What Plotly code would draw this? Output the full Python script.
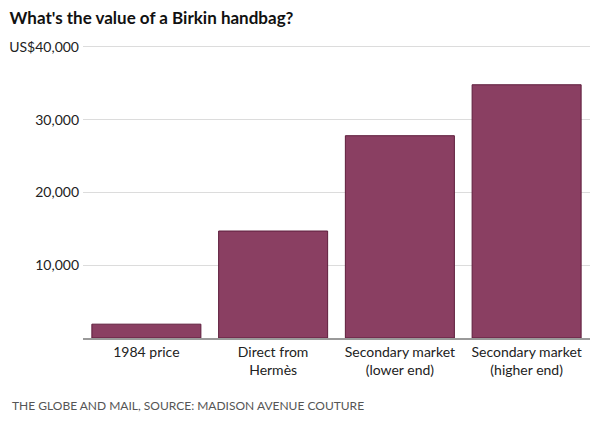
import plotly.graph_objects as go

categories = ["1984 price", "Direct from<br>Hermès", "Secondary market<br>(lower end)", "Secondary market<br>(higher end)"]
values = [1900, 14700, 27800, 34800]
tick_vals = [10000, 20000, 30000, 40000]
tick_text = ["10,000", "20,000", "30,000", "US$40,000"]

bar_fill = "#8a3f62"
bar_line = "#5e1d3c"

fig = go.Figure(go.Bar(
    x=categories, y=values,
    marker=dict(color=bar_fill, line=dict(color=bar_line, width=1)),
    hoverinfo="skip",
))

fig.update_layout(
    width=600, height=422,
    margin=dict(l=83, r=10, t=44, b=84),
    paper_bgcolor="white", plot_bgcolor="white",
    font=dict(family="Lato", color="#222", size=14),
    bargap=0.14,
    showlegend=False,
    title=dict(text="<b>What's the value of a Birkin handbag?</b>",
               x=0.016, xanchor="left", y=0.957, yanchor="middle",
               font=dict(size=17, color="#111")),
)
fig.update_yaxes(range=[0, 40400], tickvals=tick_vals, ticktext=tick_text,
                 showgrid=True, gridcolor="#dcdcdc", gridwidth=1,
                 zeroline=False, ticks="", ticklen=0, fixedrange=True,
                 ticklabelstandoff=3,
                 tickfont=dict(size=14, color="#222"))
fig.update_xaxes(showline=True, linecolor="#9a9a9a", linewidth=1.5,
                 ticks="", tickfont=dict(size=14, color="#222"), fixedrange=True)

fig.add_annotation(text="THE GLOBE AND MAIL, SOURCE: MADISON AVENUE COUTURE",
                   xref="paper", yref="paper", x=-73/507, y=-67.5/294,
                   xanchor="left", yanchor="middle", showarrow=False,
                   font=dict(size=12, color="#555"))

fig.write_html("out.html", config={"displayModeBar": False},
               post_script="document.body.style.margin='0';")
